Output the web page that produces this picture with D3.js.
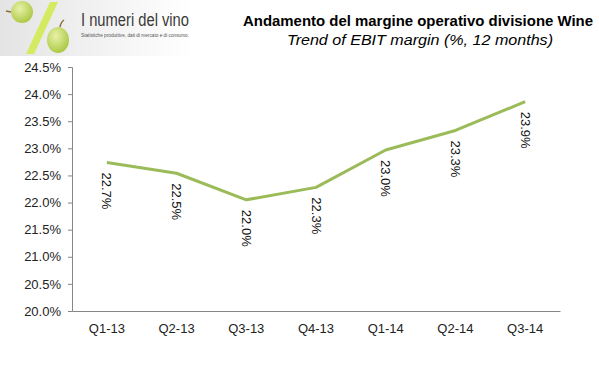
<!DOCTYPE html>
<html><head><meta charset="utf-8">
<script src="https://cdn.jsdelivr.net/npm/d3@7"></script>
<style>body{margin:0;background:#fff}svg{display:block}</style>
</head><body>
<script>
const categories = ["Q1-13","Q2-13","Q3-13","Q4-13","Q1-14","Q2-14","Q3-14"];
const values = [22.74, 22.54, 22.05, 22.28, 22.97, 23.33, 23.86];
const labels = ["22.7%","22.5%","22.0%","22.3%","23.0%","23.3%","23.9%"];
const yTicks = [20.0,20.5,21.0,21.5,22.0,22.5,23.0,23.5,24.0,24.5];
const title = "Andamento del margine operativo divisione Wine";
const subtitle = "Trend of EBIT margin (%, 12 months)";

const W = 599, H = 381;
const svg = d3.select("body").append("svg").attr("width", W).attr("height", H);
const font = "'Liberation Sans', Arial, sans-serif";

// logo
const defs = svg.append("defs");
const lg = defs.append("linearGradient").attr("id","bg").attr("x1","0").attr("x2","1");
lg.append("stop").attr("offset","0").attr("stop-color","#e4e4e4");
lg.append("stop").attr("offset","1").attr("stop-color","#ffffff");
const rg = defs.append("radialGradient").attr("id","grape").attr("cx","0.4").attr("cy","0.35").attr("r","0.7");
rg.append("stop").attr("offset","0").attr("stop-color","#e8f2a8");
rg.append("stop").attr("offset","1").attr("stop-color","#a8c640");
svg.append("rect").attr("x",0).attr("y",0).attr("width",192).attr("height",56).attr("fill","url(#bg)");
svg.append("path").attr("d","M50,2 L58,2 L34,54 L26,54 Z").attr("fill","#d4ea60");
svg.append("circle").attr("cx",22).attr("cy",12).attr("r",11).attr("fill","url(#grape)");
svg.append("line").attr("x1",11).attr("y1",12).attr("x2",6).attr("y2",11).attr("stroke","#8a6a3a").attr("stroke-width",1.5);
svg.append("ellipse").attr("cx",58).attr("cy",40).attr("rx",11).attr("ry",13).attr("fill","url(#grape)");
svg.append("path").attr("d","M60,27 Q61,22 64,20").attr("fill","none").attr("stroke","#8a6a3a").attr("stroke-width",1.5);
svg.append("text").attr("x",81).attr("y",26).attr("font-family",font).attr("font-size",18)
  .attr("fill","#3a3a3a").attr("textLength",108).attr("lengthAdjust","spacingAndGlyphs").text("I numeri del vino");
svg.append("text").attr("x",81).attr("y",37).attr("font-family",font).attr("font-size",5)
  .attr("fill","#555").attr("textLength",108).attr("lengthAdjust","spacingAndGlyphs").text("Statistiche produttive, dati di mercato e di consumo.");

// titles
svg.append("text").attr("x",418).attr("y",26).attr("text-anchor","middle").attr("font-family",font)
  .attr("font-weight","bold").attr("font-size",15).attr("fill","#000")
  .attr("textLength",350).attr("lengthAdjust","spacingAndGlyphs").text(title);
svg.append("text").attr("x",420).attr("y",45).attr("text-anchor","middle").attr("font-family",font)
  .attr("font-style","italic").attr("font-size",15).attr("fill","#000")
  .attr("textLength",266).attr("lengthAdjust","spacingAndGlyphs").text(subtitle);

// scales
const x = d3.scaleBand().domain(categories).range([72,560]);
const y = d3.scaleLinear().domain([20,24.5]).range([311,67]);

const yAxis = svg.append("g").attr("transform","translate(72,0)")
  .call(d3.axisLeft(y).tickValues(yTicks).tickFormat(d => d3.format(".1f")(d)+"%").tickSize(4).tickPadding(7));
yAxis.select(".domain").attr("stroke","#868686").attr("d","M-4,67.5H0.5V311.5H-4");
yAxis.selectAll(".tick line").attr("stroke","#868686");
yAxis.selectAll(".tick text").attr("font-family",font).attr("font-size",13).attr("fill","#222");

const xAxis = svg.append("g").attr("transform","translate(0,311)")
  .call(d3.axisBottom(x).tickSize(0).tickPadding(13));
xAxis.select(".domain").attr("stroke","#868686");
xAxis.selectAll(".tick text").attr("font-family",font).attr("font-size",13).attr("fill","#222");

// line
const pts = categories.map((c,i)=>({c, v: values[i], l: labels[i]}));
svg.append("path").datum(pts)
  .attr("d", d3.line().x(d => x(d.c)+x.bandwidth()/2).y(d => y(d.v)))
  .attr("fill","none").attr("stroke","#9bbb59").attr("stroke-width",3).attr("stroke-linejoin","round");

// data labels rotated
svg.selectAll(".dl").data(pts).enter().append("text")
  .attr("transform", d => `translate(${x(d.c)+x.bandwidth()/2},${y(d.v)+10}) rotate(90)`)
  .attr("dominant-baseline","central")
  .attr("font-family",font).attr("font-size",13).attr("fill","#111")
  .text(d => d.l);
</script>
</body></html>
